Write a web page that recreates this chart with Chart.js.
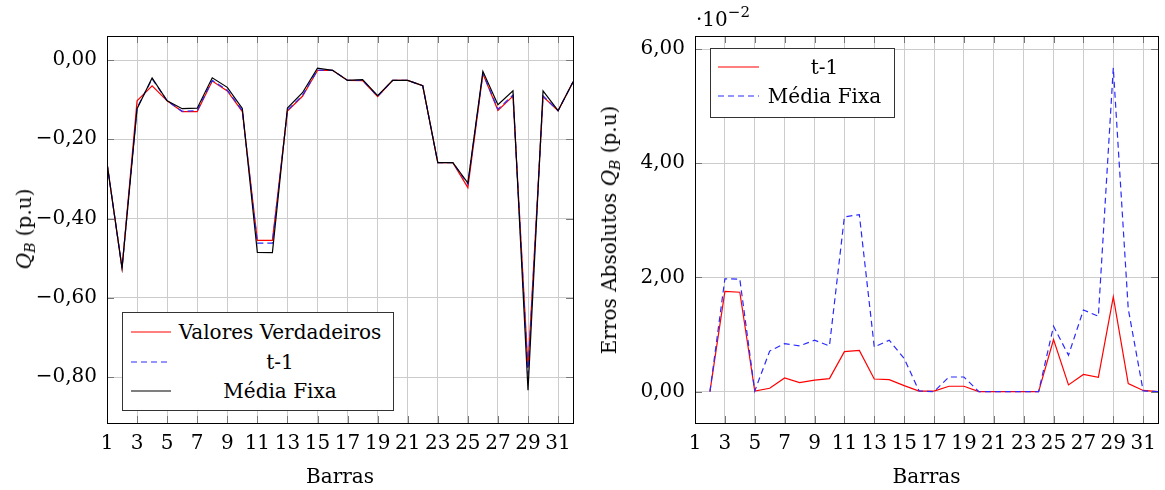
<!DOCTYPE html>
<html><head><meta charset="utf-8">
<script src="https://cdn.jsdelivr.net/npm/chart.js@4.4.1/dist/chart.umd.min.js"></script>
<style>
html,body{margin:0;padding:0;background:#fff;}
body{width:1165px;height:490px;position:relative;overflow:hidden;font-family:'DejaVu Serif',serif;color:#000;}
canvas{position:absolute;top:0;}
.ytitle{position:absolute;transform:translate(-50%,-50%) rotate(-90deg);white-space:nowrap;font-size:20px;}
.ytitle sub{font-size:14px;vertical-align:-4px;}
.legend{position:absolute;background:#fff;border:1px solid #333;box-sizing:border-box;font-size:20px;}
.legend svg{position:absolute;overflow:visible;}
.legend .lbl{position:absolute;text-align:center;line-height:22px;white-space:nowrap;}
.mult{position:absolute;font-size:20px;white-space:nowrap;}
.mult sup{font-size:15px;vertical-align:9px;}
</style></head>
<body>
<canvas id="c1" width="580" height="490" style="left:0"></canvas>
<canvas id="c2" width="585" height="490" style="left:580px"></canvas>
<div class="ytitle" style="left:25px;top:229px"><i>Q</i><sub><i>B</i></sub> (p.u)</div>
<div class="ytitle" style="left:610px;top:230px">Erros Absolutos <i>Q</i><sub><i>B</i></sub> (p.u)</div>
<div class="mult" style="left:696px;top:3px">·10<sup>−2</sup></div>
<div class="legend" id="leg1" style="left:122px;top:312px;width:272px;height:99px"></div>
<div class="legend" id="leg2" style="left:710px;top:48px;width:185px;height:70px"></div>
<script>
const barras = [1,2,3,4,5,6,7,8,9,10,11,12,13,14,15,16,17,18,19,20,21,22,23,24,25,26,27,28,29,30,31,32];
const xTicks = [1,3,5,7,9,11,13,15,17,19,21,23,25,27,29,31];
const yTicksQ = [-0.8,-0.6,-0.4,-0.2,0];
const yTicksErr = [0,2,4,6];

// Left chart: Q_B (p.u)
const valoresVerdadeiros = [-0.26,-0.525,-0.103,-0.065,-0.103,-0.13,-0.13,-0.053,-0.078,-0.13,-0.455,-0.455,-0.129,-0.0915,-0.0265,-0.026,-0.0514,-0.052,-0.0925,-0.0514,-0.0514,-0.065,-0.259,-0.259,-0.322,-0.035,-0.127,-0.091,-0.776,-0.092,-0.128,-0.055];
const t1 = [-0.26,-0.525,-0.1205,-0.0476,-0.103,-0.1294,-0.1276,-0.0514,-0.076,-0.1277,-0.462,-0.462,-0.1268,-0.0894,-0.0255,-0.026,-0.0514,-0.051,-0.0915,-0.0514,-0.0514,-0.065,-0.259,-0.259,-0.313,-0.0338,-0.124,-0.0885,-0.7926,-0.0906,-0.128,-0.055];
const mediaFixa = [-0.26,-0.525,-0.1228,-0.0453,-0.103,-0.1229,-0.1216,-0.045,-0.069,-0.122,-0.4856,-0.486,-0.1212,-0.0825,-0.0207,-0.026,-0.0514,-0.0495,-0.090,-0.0514,-0.0514,-0.065,-0.259,-0.259,-0.3105,-0.0286,-0.1127,-0.078,-0.833,-0.078,-0.128,-0.055];

// Right chart: absolute errors (x 10^-2)
const erroT1 = [null,0,1.754,1.74,0.01,0.058,0.24,0.158,0.2,0.228,0.70,0.72,0.22,0.21,0.105,0.01,0.01,0.094,0.094,0,0,0,0,0,0.912,0.117,0.30,0.25,1.66,0.14,0.02,0];
const erroMediaFixa = [null,0,1.975,1.97,0.01,0.71,0.84,0.80,0.90,0.80,3.06,3.10,0.78,0.90,0.58,0.01,0,0.256,0.256,0,0,0,0,0,1.145,0.637,1.43,1.32,5.67,1.45,0.01,0];

const labelsLeft = ['Valores Verdadeiros','t-1','Média Fixa'];
const labelsRight = ['t-1','Média Fixa'];

const FONT = 'DejaVu Serif';
const RED = '#ff0000', BLUE = '#2a2aff', BLACK = '#000000';

function pts(ys){ return barras.map((x,i)=>({x:x, y:ys[i]})); }
function fmt(v){ const s = Math.abs(v).toFixed(2).replace('.',','); return (v < -1e-9 ? '\u2212' : '') + s; }

const framePlugin = {
  id:'frame',
  afterDatasetsDraw(chart){
    const {ctx, chartArea:a, scales} = chart;
    const xs = scales.x, ys = scales.y;
    ctx.save();
    ctx.strokeStyle = '#777'; ctx.lineWidth = 1;
    ctx.beginPath();
    xs.ticks.forEach(t=>{ const p = Math.round(xs.getPixelForValue(t.value))+0.5;
      ctx.moveTo(p,a.bottom); ctx.lineTo(p,a.bottom-7); ctx.moveTo(p,a.top); ctx.lineTo(p,a.top+7); });
    ys.ticks.forEach(t=>{ const p = Math.round(ys.getPixelForValue(t.value))+0.5;
      ctx.moveTo(a.left,p); ctx.lineTo(a.left+7,p); ctx.moveTo(a.right,p); ctx.lineTo(a.right-7,p); });
    ctx.stroke();
    ctx.strokeStyle = '#000';
    ctx.strokeRect(Math.round(a.left)+0.5, Math.round(a.top)+0.5, Math.round(a.right)-Math.round(a.left), Math.round(a.bottom)-Math.round(a.top));
    ctx.restore();
  }
};

function makeChart(id, cfg){
  return new Chart(document.getElementById(id), {
    type:'line',
    data:{datasets:cfg.datasets},
    options:{
      responsive:false, animation:false, events:[],
      layout:{padding:{top:36,right:cfg.padRight,bottom:0,left:0}},
      elements:{point:{radius:0}, line:{tension:0, borderWidth:1.2}},
      plugins:{legend:{display:false}, tooltip:{enabled:false}},
      scales:{
        x:{type:'linear', min:1, max:32,
          afterBuildTicks:s=>{ s.ticks = xTicks.map(v=>({value:v})); },
          afterFit:s=>{ s.height = cfg.xHeight; },
          grid:{color:'#cccccc', drawTicks:false, lineWidth:1},
          border:{display:false},
          ticks:{padding:9, color:'#000', font:{family:FONT,size:20}, maxRotation:0, autoSkip:false, callback:v=>String(v)},
          title:{display:true, text:'Barras', color:'#000', font:{family:FONT,size:20}, padding:{top:0,bottom:0}}
        },
        y:{type:'linear', min:cfg.yMin, max:cfg.yMax,
          afterBuildTicks:s=>{ s.ticks = cfg.yTicks.map(v=>({value:v})); },
          afterFit:s=>{ s.width = cfg.yWidth; },
          grid:{color:'#cccccc', drawTicks:false, lineWidth:1},
          border:{display:false},
          ticks:{padding:10, color:'#000', font:{family:FONT,size:20}, callback:v=>fmt(v)}
        }
      }
    },
    plugins:[framePlugin]
  });
}

makeChart('c1', {
  datasets:[
    {label:labelsLeft[0], data:pts(valoresVerdadeiros), borderColor:RED, order:3},
    {label:labelsLeft[1], data:pts(t1), borderColor:BLUE, borderDash:[6,4], order:2},
    {label:labelsLeft[2], data:pts(mediaFixa), borderColor:BLACK, order:1}
  ],
  yMin:-0.916, yMax:0.0606, yTicks:yTicksQ, yWidth:107, xHeight:67, padRight:6
});
makeChart('c2', {
  datasets:[
    {label:labelsRight[0], data:pts(erroT1), borderColor:RED, order:2},
    {label:labelsRight[1], data:pts(erroMediaFixa), borderColor:BLUE, borderDash:[6,4], order:1}
  ],
  yMin:-0.55, yMax:6.228, yTicks:yTicksErr, yWidth:115, xHeight:67, padRight:3
});

const SVGNS = 'http://www.w3.org/2000/svg';
function buildLegend(id, labels, styles, g){
  const box = document.getElementById(id);
  labels.forEach((lab,i)=>{
    const cy = g.firstCenter + i*g.rowH;
    const svg = document.createElementNS(SVGNS,'svg');
    svg.setAttribute('width', g.sw); svg.setAttribute('height', 4);
    svg.style.left = g.sx+'px'; svg.style.top = (cy-2)+'px';
    const ln = document.createElementNS(SVGNS,'line');
    ln.setAttribute('x1',0); ln.setAttribute('x2',g.sw); ln.setAttribute('y1',2); ln.setAttribute('y2',2);
    ln.setAttribute('stroke', styles[i].color); ln.setAttribute('stroke-width', 1.2);
    if (styles[i].dash) ln.setAttribute('stroke-dasharray', styles[i].dash);
    svg.appendChild(ln);
    box.appendChild(svg);
    const l = document.createElement('div');
    l.className = 'lbl';
    l.textContent = lab;
    l.style.left = g.tx+'px'; l.style.width = g.tw+'px'; l.style.top = (cy-11)+'px';
    box.appendChild(l);
  });
}
buildLegend('leg1', labelsLeft, [{color:RED},{color:BLUE,dash:'6 4'},{color:BLACK}],
  {firstCenter:19, rowH:29.5, sx:8, sw:40, tx:54, tw:206});
buildLegend('leg2', labelsRight, [{color:RED},{color:BLUE,dash:'6 4'}],
  {firstCenter:18, rowH:28.5, sx:7, sw:41, tx:53, tw:121});
</script>
</body></html>
